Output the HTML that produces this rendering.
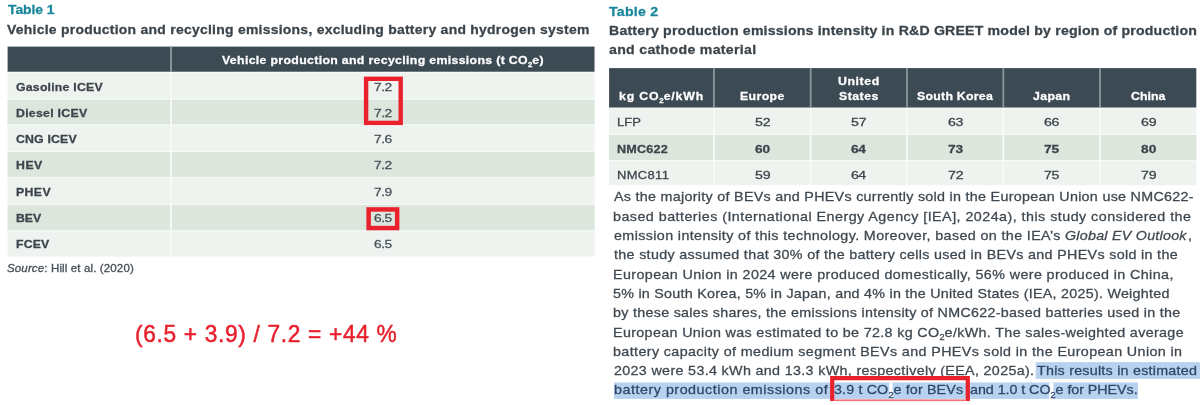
<!DOCTYPE html><html><head><meta charset="utf-8"><title>Tables</title><style>
html,body{margin:0;padding:0;background:#fff}body{width:1200px;height:405px;position:relative;overflow:hidden;font-family:"Liberation Sans", sans-serif}.r{position:absolute;box-sizing:content-box}.t{position:absolute;white-space:nowrap;line-height:1;z-index:3;transform-origin:0 0;-webkit-text-stroke:0.27px}.sub{font-size:64%;position:relative;top:0.46em;letter-spacing:0}
</style></head><body>
<svg class="r" style="left:0;top:0;z-index:1" width="1200" height="405" viewBox="0 0 1200 405">
<rect x="7.60" y="46.60" width="586.90" height="25.30" fill="#3c4a54"/>
<rect x="7.60" y="71.90" width="586.90" height="184.70" fill="#eef3ef"/>
<rect x="7.60" y="71.90" width="586.90" height="1.10" fill="#f7fbf8"/>
<rect x="7.60" y="98.50" width="586.90" height="27.20" fill="#f7fbf8"/>
<rect x="7.60" y="99.80" width="586.90" height="24.60" fill="#dce6dc"/>
<rect x="7.60" y="150.70" width="586.90" height="27.50" fill="#f7fbf8"/>
<rect x="7.60" y="152.00" width="586.90" height="24.90" fill="#dce6dc"/>
<rect x="7.60" y="203.60" width="586.90" height="27.90" fill="#f7fbf8"/>
<rect x="7.60" y="204.90" width="586.90" height="25.30" fill="#dce6dc"/>
<rect x="170.10" y="46.60" width="1.80" height="25.30" fill="#8d98a1"/>
<rect x="170.10" y="71.90" width="1.80" height="184.70" fill="#f7fbf8"/>
<rect x="609.10" y="68.10" width="587.20" height="39.70" fill="#3c4a54"/>
<rect x="609.10" y="107.80" width="587.20" height="77.40" fill="#eef3ef"/>
<rect x="609.10" y="107.80" width="587.20" height="1.10" fill="#f7fbf8"/>
<rect x="609.10" y="133.70" width="587.20" height="27.60" fill="#f7fbf8"/>
<rect x="609.10" y="135.00" width="587.20" height="25.00" fill="#dce6dc"/>
<rect x="713.00" y="68.10" width="1.80" height="39.70" fill="#8b959d"/>
<rect x="713.05" y="107.80" width="1.70" height="77.40" fill="#f7fbf8"/>
<rect x="809.80" y="68.10" width="1.80" height="39.70" fill="#8b959d"/>
<rect x="809.85" y="107.80" width="1.70" height="77.40" fill="#f7fbf8"/>
<rect x="906.10" y="68.10" width="1.80" height="39.70" fill="#8b959d"/>
<rect x="906.15" y="107.80" width="1.70" height="77.40" fill="#f7fbf8"/>
<rect x="1002.40" y="68.10" width="1.80" height="39.70" fill="#8b959d"/>
<rect x="1002.45" y="107.80" width="1.70" height="77.40" fill="#f7fbf8"/>
<rect x="1099.10" y="68.10" width="1.80" height="39.70" fill="#8b959d"/>
<rect x="1099.15" y="107.80" width="1.70" height="77.40" fill="#f7fbf8"/>
<rect x="1035.70" y="362.10" width="164.30" height="16.80" fill="#b7d2ee"/>
<rect x="614.00" y="382.50" width="524.00" height="16.40" fill="#b7d2ee"/>
<rect x="889.20" y="382.50" width="3.40" height="16.40" fill="#fff"/>
<rect x="1049.10" y="382.50" width="4.40" height="16.40" fill="#fff"/>
</svg>
<svg class="r" style="left:0;top:0;z-index:5" width="1200" height="405" viewBox="0 0 1200 405">
<rect x="366.10" y="78.80" width="34.60" height="44.10" fill="none" stroke="#e8212d" stroke-width="4.4"/>
<rect x="368.65" y="209.45" width="28.50" height="18.60" fill="none" stroke="#e8212d" stroke-width="4.5"/>
<path d="M832.2 401.1 V378.05 H967.8 V401.1" fill="none" stroke="#e8212d" stroke-width="4.2"/>
<rect x="834.3" y="399.4" width="131.4" height="1.7" fill="#f07078"/>
</svg>
<div class="t" id="t0" style="left:7.60px;top:2.50px;font-size:13px;font-weight:700;color:#18869a;letter-spacing:-0.046px;transform:scaleX(1.07);">Table 1</div>
<div class="t" id="t1" style="left:6.60px;top:22.55px;font-size:13px;font-weight:700;color:#3b444b;letter-spacing:0.256px;transform:scaleX(1.07);">Vehicle production and recycling emissions, excluding battery and hydrogen system</div>
<div class="t" id="t2" style="left:221.50px;top:54.67px;font-size:11.5px;font-weight:700;color:#ffffff;letter-spacing:0.312px;transform:scaleX(1.07);">Vehicle production and recycling emissions (t CO<span class="sub">2</span>e)</div>
<div class="t" id="t3" style="left:15.55px;top:81.57px;font-size:11.5px;font-weight:700;color:#3b444b;letter-spacing:0.196px;transform:scaleX(1.07);">Gasoline ICEV</div>
<div class="t" id="t4" style="left:373.60px;top:81.57px;font-size:11.5px;font-weight:400;color:#474f57;letter-spacing:-0.427px;transform:scaleX(1.2);">7.2</div>
<div class="t" id="t5" style="left:15.55px;top:107.62px;font-size:11.5px;font-weight:700;color:#3b444b;letter-spacing:0.258px;transform:scaleX(1.07);">Diesel ICEV</div>
<div class="t" id="t6" style="left:373.60px;top:107.62px;font-size:11.5px;font-weight:400;color:#474f57;letter-spacing:-0.427px;transform:scaleX(1.2);">7.2</div>
<div class="t" id="t7" style="left:15.55px;top:133.57px;font-size:11.5px;font-weight:700;color:#3b444b;letter-spacing:0.151px;transform:scaleX(1.07);">CNG ICEV</div>
<div class="t" id="t8" style="left:373.60px;top:133.57px;font-size:11.5px;font-weight:400;color:#474f57;letter-spacing:-0.427px;transform:scaleX(1.2);">7.6</div>
<div class="t" id="t9" style="left:15.55px;top:159.62px;font-size:11.5px;font-weight:700;color:#3b444b;letter-spacing:0.476px;transform:scaleX(1.07);">HEV</div>
<div class="t" id="t10" style="left:373.60px;top:159.62px;font-size:11.5px;font-weight:400;color:#474f57;letter-spacing:-0.427px;transform:scaleX(1.2);">7.2</div>
<div class="t" id="t11" style="left:15.55px;top:186.57px;font-size:11.5px;font-weight:700;color:#3b444b;letter-spacing:0.345px;transform:scaleX(1.07);">PHEV</div>
<div class="t" id="t12" style="left:373.60px;top:186.57px;font-size:11.5px;font-weight:400;color:#474f57;letter-spacing:-0.383px;transform:scaleX(1.2);">7.9</div>
<div class="t" id="t13" style="left:15.55px;top:212.72px;font-size:11.5px;font-weight:700;color:#3b444b;letter-spacing:-0.042px;transform:scaleX(1.07);">BEV</div>
<div class="t" id="t14" style="left:373.60px;top:212.72px;font-size:11.5px;font-weight:400;color:#474f57;letter-spacing:-0.414px;transform:scaleX(1.2);">6.5</div>
<div class="t" id="t15" style="left:15.55px;top:238.67px;font-size:11.5px;font-weight:700;color:#3b444b;letter-spacing:0.133px;transform:scaleX(1.07);">FCEV</div>
<div class="t" id="t16" style="left:373.60px;top:238.67px;font-size:11.5px;font-weight:400;color:#474f57;letter-spacing:-0.414px;transform:scaleX(1.2);">6.5</div>
<div class="t" id="t17" style="left:6.50px;top:262.66px;font-size:10.5px;font-weight:400;color:#434d56;letter-spacing:0.104px;transform:scaleX(1.1);"><i>Source</i>: Hill et al. (2020)</div>
<div class="t" id="t18" style="left:134.70px;top:321.50px;font-size:23.8px;font-weight:400;color:#e8212d;letter-spacing:0.699px;transform:scaleX(0.955);-webkit-text-stroke:0.5px;">(6.5 + 3.9) / 7.2 = +44 %</div>
<div class="t" id="t19" style="left:608.50px;top:4.58px;font-size:13.2px;font-weight:700;color:#18869a;letter-spacing:0.218px;transform:scaleX(1.07);">Table 2</div>
<div class="t" id="t20" style="left:608.50px;top:23.58px;font-size:13.2px;font-weight:700;color:#3b444b;letter-spacing:0.182px;transform:scaleX(1.07);">Battery production emissions intensity in R&amp;D GREET model by region of production</div>
<div class="t" id="t21" style="left:608.50px;top:42.58px;font-size:13.2px;font-weight:700;color:#3b444b;letter-spacing:0.292px;transform:scaleX(1.07);">and cathode material</div>
<div class="t" id="t22" style="left:618.50px;top:90.52px;font-size:11.5px;font-weight:700;color:#ffffff;letter-spacing:0.764px;transform:scaleX(1.07);">kg CO<span class="sub">2</span>e/kWh</div>
<div class="t" id="t23" style="left:739.50px;top:90.52px;font-size:11.5px;font-weight:700;color:#ffffff;letter-spacing:0.357px;transform:scaleX(1.07);">Europe</div>
<div class="t" id="t24" style="left:837.50px;top:75.52px;font-size:11.5px;font-weight:700;color:#ffffff;letter-spacing:0.538px;transform:scaleX(1.07);">United</div>
<div class="t" id="t25" style="left:838.50px;top:90.52px;font-size:11.5px;font-weight:700;color:#ffffff;letter-spacing:0.455px;transform:scaleX(1.07);">States</div>
<div class="t" id="t26" style="left:916.50px;top:90.52px;font-size:11.5px;font-weight:700;color:#ffffff;letter-spacing:0.245px;transform:scaleX(1.07);">South Korea</div>
<div class="t" id="t27" style="left:1032.50px;top:90.52px;font-size:11.5px;font-weight:700;color:#ffffff;letter-spacing:0.354px;transform:scaleX(1.07);">Japan</div>
<div class="t" id="t28" style="left:1130.50px;top:90.52px;font-size:11.5px;font-weight:700;color:#ffffff;letter-spacing:0.021px;transform:scaleX(1.07);">China</div>
<div class="t" id="t29" style="left:616.50px;top:116.61px;font-size:11.8px;font-weight:400;color:#3b444b;letter-spacing:0.096px;transform:scaleX(1.1);">LFP</div>
<div class="t" id="t30" style="left:754.60px;top:116.61px;font-size:11.8px;font-weight:400;color:#3b444b;letter-spacing:-0.149px;transform:scaleX(1.2);">52</div>
<div class="t" id="t31" style="left:850.55px;top:116.61px;font-size:11.8px;font-weight:400;color:#3b444b;letter-spacing:-0.201px;transform:scaleX(1.2);">57</div>
<div class="t" id="t32" style="left:947.50px;top:116.61px;font-size:11.8px;font-weight:400;color:#3b444b;letter-spacing:-0.319px;transform:scaleX(1.2);">63</div>
<div class="t" id="t33" style="left:1043.60px;top:116.61px;font-size:11.8px;font-weight:400;color:#3b444b;letter-spacing:-0.319px;transform:scaleX(1.2);">66</div>
<div class="t" id="t34" style="left:1140.60px;top:116.61px;font-size:11.8px;font-weight:400;color:#3b444b;letter-spacing:-0.122px;transform:scaleX(1.2);">69</div>
<div class="t" id="t35" style="left:616.50px;top:143.51px;font-size:11.8px;font-weight:700;color:#3b444b;letter-spacing:0.191px;transform:scaleX(1.07);">NMC622</div>
<div class="t" id="t36" style="left:754.60px;top:143.51px;font-size:11.8px;font-weight:700;color:#3b444b;letter-spacing:0.010px;transform:scaleX(1.16);">60</div>
<div class="t" id="t37" style="left:850.55px;top:143.51px;font-size:11.8px;font-weight:700;color:#3b444b;letter-spacing:-0.410px;transform:scaleX(1.16);">64</div>
<div class="t" id="t38" style="left:947.50px;top:143.51px;font-size:11.8px;font-weight:700;color:#3b444b;letter-spacing:-0.021px;transform:scaleX(1.16);">73</div>
<div class="t" id="t39" style="left:1043.60px;top:143.51px;font-size:11.8px;font-weight:700;color:#3b444b;letter-spacing:-0.048px;transform:scaleX(1.16);">75</div>
<div class="t" id="t40" style="left:1140.60px;top:143.51px;font-size:11.8px;font-weight:700;color:#3b444b;letter-spacing:0.049px;transform:scaleX(1.16);">80</div>
<div class="t" id="t41" style="left:616.50px;top:169.56px;font-size:11.8px;font-weight:400;color:#3b444b;letter-spacing:0.306px;transform:scaleX(1.1);">NMC811</div>
<div class="t" id="t42" style="left:754.60px;top:169.56px;font-size:11.8px;font-weight:400;color:#3b444b;letter-spacing:-0.131px;transform:scaleX(1.2);">59</div>
<div class="t" id="t43" style="left:850.55px;top:169.56px;font-size:11.8px;font-weight:400;color:#3b444b;letter-spacing:-0.478px;transform:scaleX(1.2);">64</div>
<div class="t" id="t44" style="left:947.50px;top:169.56px;font-size:11.8px;font-weight:400;color:#3b444b;letter-spacing:-0.149px;transform:scaleX(1.2);">72</div>
<div class="t" id="t45" style="left:1043.60px;top:169.56px;font-size:11.8px;font-weight:400;color:#3b444b;letter-spacing:-0.366px;transform:scaleX(1.2);">75</div>
<div class="t" id="t46" style="left:1140.60px;top:169.56px;font-size:11.8px;font-weight:400;color:#3b444b;letter-spacing:-0.131px;transform:scaleX(1.2);">79</div>
<div class="t" id="t47" style="left:613.50px;top:189.70px;font-size:13px;font-weight:400;color:#3f4850;letter-spacing:0.269px;transform:scaleX(1.1);">As the majority of BEVs and PHEVs currently sold in the European Union use NMC622-</div>
<div class="t" id="t48" style="left:612.50px;top:209.50px;font-size:13px;font-weight:400;color:#3f4850;letter-spacing:0.422px;transform:scaleX(1.1);">based batteries (International Energy Agency [IEA], 2024a), this study considered the</div>
<div class="t" id="t49" style="left:613.50px;top:228.55px;font-size:13px;font-weight:400;color:#3f4850;letter-spacing:0.346px;transform:scaleX(1.1);">emission intensity of this technology. Moreover, based on the IEA’s</div>
<div class="t" id="t50" style="left:1064.50px;top:228.55px;font-size:13px;font-weight:400;color:#3f4850;letter-spacing:0.220px;transform:scaleX(1.1);"><i>Global EV Outlook</i></div>
<div class="t" id="t51" style="left:1187.50px;top:228.55px;font-size:13px;font-weight:400;color:#3f4850;letter-spacing:0.000px;transform:scaleX(1.1);">,</div>
<div class="t" id="t52" style="left:613.50px;top:247.60px;font-size:13px;font-weight:400;color:#3f4850;letter-spacing:0.295px;transform:scaleX(1.1);">the study assumed that 30% of the battery cells used in BEVs and PHEVs sold in the</div>
<div class="t" id="t53" style="left:612.50px;top:267.65px;font-size:13px;font-weight:400;color:#3f4850;letter-spacing:0.359px;transform:scaleX(1.1);">European Union in 2024 were produced domestically, 56% were produced in China,</div>
<div class="t" id="t54" style="left:612.50px;top:286.70px;font-size:13px;font-weight:400;color:#3f4850;letter-spacing:0.237px;transform:scaleX(1.1);">5% in South Korea, 5% in Japan, and 4% in the United States (IEA, 2025). Weighted</div>
<div class="t" id="t55" style="left:612.50px;top:305.50px;font-size:13px;font-weight:400;color:#3f4850;letter-spacing:0.266px;transform:scaleX(1.1);">by these sales shares, the emissions intensity of NMC622-based batteries used in the</div>
<div class="t" id="t56" style="left:612.50px;top:325.55px;font-size:13px;font-weight:400;color:#3f4850;letter-spacing:0.317px;transform:scaleX(1.1);">European Union was estimated to be 72.8 kg CO<span class="sub">2</span>e/kWh. The sales-weighted average</div>
<div class="t" id="t57" style="left:612.50px;top:344.60px;font-size:13px;font-weight:400;color:#3f4850;letter-spacing:0.351px;transform:scaleX(1.1);">battery capacity of medium segment BEVs and PHEVs sold in the European Union in</div>
<div class="t" id="t58" style="left:613.50px;top:363.65px;font-size:13px;font-weight:400;color:#3f4850;letter-spacing:0.305px;transform:scaleX(1.1);">2023 were 53.4 kWh and 13.3 kWh, respectively (EEA, 2025a).</div>
<div class="t" id="t59" style="left:1036.60px;top:363.65px;font-size:13px;font-weight:400;color:#3f4850;letter-spacing:0.217px;transform:scaleX(1.1);color:#2f466b;">This results in estimated</div>
<div class="t" id="t60" style="left:613.50px;top:382.70px;font-size:13px;font-weight:400;color:#3f4850;letter-spacing:0.476px;transform:scaleX(1.1);color:#2f466b;">battery production emissions of</div>
<div class="t" id="t61" style="left:833.50px;top:382.70px;font-size:13px;font-weight:400;color:#3f4850;letter-spacing:0.128px;transform:scaleX(1.1);color:#2f466b;">3.9 t CO<span class="sub">2</span>e for BEVs</div>
<div class="t" id="t62" style="left:969.50px;top:382.70px;font-size:13px;font-weight:400;color:#3f4850;letter-spacing:-0.047px;transform:scaleX(1.1);color:#2f466b;">and 1.0 t CO<span class="sub">2</span>e for PHEVs.</div>
</body></html>
